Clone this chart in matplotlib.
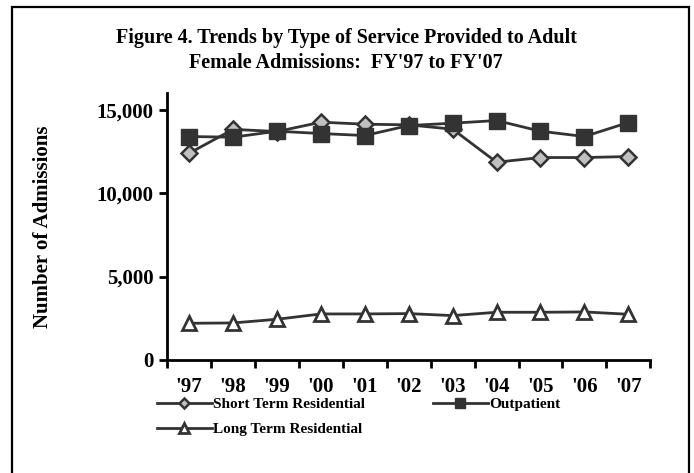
import matplotlib.pyplot as plt
from matplotlib.patches import Rectangle
from matplotlib.ticker import FuncFormatter, FixedLocator

years = ["'97", "'98", "'99", "'00", "'01", "'02", "'03", "'04", "'05", "'06", "'07"]
short_term = [12400, 13830, 13700, 14260, 14140, 14100, 13840, 11860, 12140, 12140, 12200]
outpatient = [13400, 13360, 13720, 13580, 13460, 14060, 14200, 14360, 13720, 13400, 14240]
long_term = [2200, 2220, 2440, 2760, 2760, 2780, 2660, 2860, 2860, 2880, 2740]

plt.rcParams['font.family'] = ['Liberation Serif', 'DejaVu Serif']
plt.rcParams['font.weight'] = 'bold'

line_col = '#333333'
fig = plt.figure(figsize=(6.94, 4.73), dpi=100)
ax = fig.add_axes([0.241, 0.239, 0.696, 0.564])

x = range(len(years))
h1, = ax.plot(x, short_term, color=line_col, lw=2, marker='D', ms=8,
              mfc='#c0c0c0', mec=line_col, mew=1.8, label='Short Term Residential', zorder=3)
h2, = ax.plot(x, outpatient, color=line_col, lw=2, marker='s', ms=11,
              mfc=line_col, mec=line_col, label='Outpatient', zorder=4)
h3, = ax.plot(x, long_term, color=line_col, lw=2, marker='^', ms=10,
              mfc='white', mec=line_col, mew=2, label='Long Term Residential', zorder=3)

ax.set_xlim(-0.5, len(years) - 0.5)
ax.set_ylim(0, 16000)
ax.set_yticks([0, 5000, 10000, 15000])
ax.yaxis.set_major_formatter(FuncFormatter(lambda v, p: f'{int(v):,}'))
ax.set_xticks(list(x))
ax.set_xticklabels(years)
ax.xaxis.set_minor_locator(FixedLocator([i - 0.5 for i in range(len(years) + 1)]))
ax.tick_params(axis='x', which='major', length=0, pad=12, labelsize=15)
ax.tick_params(axis='x', which='minor', length=6, width=2, direction='out')
ax.tick_params(axis='y', length=6, width=2, direction='out', labelsize=15, pad=4)
for s in ['top', 'right']:
    ax.spines[s].set_visible(False)
for s in ['left', 'bottom']:
    ax.spines[s].set_linewidth(2)
ax.set_ylabel('Number of Admissions', fontsize=15, fontweight='bold', labelpad=31)

fig.text(0.499, 0.919, "Figure 4. Trends by Type of Service Provided to Adult",
         ha='center', va='center', fontsize=14.5, fontweight='bold')
fig.text(0.499, 0.866, "Female Admissions:  FY'97 to FY'07",
         ha='center', va='center', fontsize=14.5, fontweight='bold')

fig.legend(handles=[h1, h3, h2], loc='upper left', bbox_to_anchor=(0.226, 0.160),
           ncol=2, frameon=False, fontsize=11, handlelength=3.6, handletextpad=0.1,
           columnspacing=4.4, labelspacing=0.75, borderaxespad=0, borderpad=0,
           markerscale=0.7)

fig.patches.append(Rectangle((12 / 694, -0.05), 677 / 694, 1.035, transform=fig.transFigure,
                             fill=False, ec='black', lw=1.6))

fig.savefig('out.png', dpi=100)
